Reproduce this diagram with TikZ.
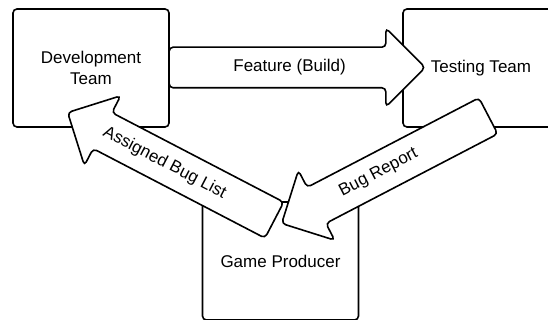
\documentclass[tikz,border=0pt]{standalone}
\usepackage{fontspec}
\setmainfont{Liberation Sans}
\usetikzlibrary{shapes.arrows,calc}

\tikzset{
 team/.style={draw,line width=1.6pt,rounded corners=4pt,fill=white,minimum width=156pt,minimum height=118pt,align=center},
 flow/.style={single arrow,draw,fill=white,line width=1.6pt,rounded corners=4pt,text height=12pt,text depth=4pt,inner xsep=0pt,inner ysep=11.5pt,single arrow head extend=19pt,single arrow tip angle=90}
}

\begin{document}
\begin{tikzpicture}[x=1pt,y=1pt,font=\fontsize{17}{21}\selectfont]
 \useasboundingbox (0,0) rectangle (548,320);
 % the three parties
 \node[team] (dev) at (91,252) {Development\\Team};
 \node[team] (test) at (481,252) {Testing Team};
 \node[team] (prod) at (280.5,59) {Game Producer};
 % what goes where
 \node[flow,minimum height=256pt] (build) at (287,252.5) {};
 \node[flow,minimum height=233pt,rotate=-27.5,shape border rotate=180] (assigned) at (180,149) {};
 \node[flow,minimum height=233pt,rotate=27.5,shape border rotate=180] (report) at (394,155) {};
 % labels sit a little off the middle
 \node at ($(build.tail)!0.47!(build.tip)$) {Feature (Build)};
 \node[rotate=-27.5] at ($(assigned.tail)!0.53!(assigned.tip)$) {Assigned Bug List};
 \node[rotate=27.5] at ($(report.tail)!0.53!(report.tip)$) {Bug Report};
\end{tikzpicture}
\end{document}
